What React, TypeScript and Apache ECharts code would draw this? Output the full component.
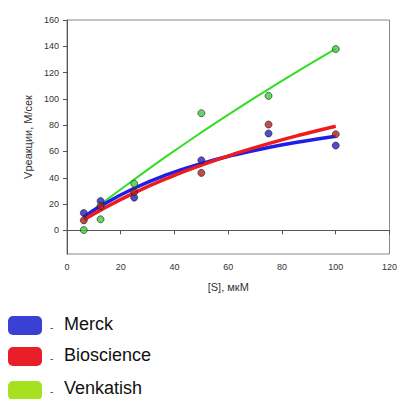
import React, { useEffect, useRef } from "react";
import * as echarts from "echarts";

// Substrate concentrations (мкМ)
const S = [6.25, 12.5, 25, 50, 75, 100];
// Measured rates
const merck = [13.2, 22.3, 24.9, 53.3, 73.7, 64.5];
const bioscience = [7.6, 18.5, 29, 43.7, 80.5, 73.1];
const venkatish = [0.2, 8.4, 35.5, 89.1, 102.3, 137.9];

// Fitted curves
const fitX = [6.25, 12.5, 25, 37.5, 50, 62.5, 75, 87.5, 100];
const merckFit = [10, 18.5, 32, 42.5, 50.8, 57.4, 63, 67.6, 71.6];
const bioscienceFit = [8, 15.4, 28.5, 39.8, 49.6, 58.3, 66, 72.9, 79.2];
const venkatishFit = [10, 19.8, 38.7, 57, 74.5, 91.3, 107.4, 123, 138];

const yTicks = [0, 20, 40, 60, 80, 100, 120, 140, 160];

const legendNames = ["Merck", "Bioscience", "Venkatish"];
const legendColors = ["#3b40d4", "#e81e28", "#a6e01e"];

const FONT = "Liberation Sans, Arial, sans-serif";

const pairs = (xs: number[], ys: number[]) => xs.map((x, i) => [x, ys[i]]);

export default function App() {
  const ref = useRef<HTMLDivElement>(null);
  useEffect(() => {
    if (!ref.current) return;
    const chart = echarts.init(ref.current, null, { renderer: "svg" });
    const legendY = [316, 347, 381];
    const legendTextY = [324, 355, 388];
    const graphics: any[] = [];
    legendNames.forEach((n, i) => {
      graphics.push({
        type: "rect",
        shape: { x: 8, y: legendY[i], width: 34, height: 19, r: 5 },
        style: { fill: legendColors[i] },
      });
      graphics.push({
        type: "text",
        x: 50,
        y: legendTextY[i] + 3,
        style: { text: "-", fontSize: 10, fill: "#444", fontFamily: FONT, verticalAlign: "middle" },
      });
      graphics.push({
        type: "text",
        x: 64,
        y: legendTextY[i],
        style: { text: n, fontSize: 18, fill: "#111", fontFamily: FONT, verticalAlign: "middle" },
      });
    });

    const lineSeries = (name: string, data: number[][], color: string, width: number) => ({
      type: "line",
      name,
      data,
      smooth: true,
      showSymbol: false,
      lineStyle: { color, width },
      z: 2,
    });
    const scatterSeries = (name: string, data: number[][], color: string) => ({
      type: "scatter",
      name,
      data,
      symbolSize: 7,
      itemStyle: { color, borderColor: "#222", borderWidth: 0.8 },
      z: 3,
    });

    chart.setOption({
      animation: false,
      grid: {
        left: 67,
        right: 8,
        top: 20,
        bottom: 145,
        show: true,
        borderColor: "#888",
        borderWidth: 1,
      },
      xAxis: {
        type: "value",
        min: 0,
        max: 120,
        interval: 20,
        name: "[S], мкМ",
        nameLocation: "middle",
        nameGap: 27,
        nameTextStyle: { fontSize: 11, color: "#333", fontFamily: FONT },
        axisLine: { show: true, lineStyle: { color: "#555", width: 1 } },
        axisTick: { show: true, length: 4, lineStyle: { color: "#555" } },
        axisLabel: { fontSize: 9, color: "#333", margin: 8, fontFamily: FONT },
        splitLine: { show: false },
      },
      yAxis: {
        type: "value",
        min: -18,
        max: 160,
        name: "Vреакции, М/сек",
        nameLocation: "middle",
        nameGap: 32,
        nameTextStyle: { fontSize: 11, color: "#333", fontFamily: FONT },
        axisLine: { show: true, lineStyle: { color: "#555", width: 1 } },
        axisTick: { show: true, length: 4, customValues: yTicks, lineStyle: { color: "#555" } },
        axisLabel: { fontSize: 9, color: "#333", margin: 8, customValues: yTicks, fontFamily: FONT },
        splitLine: { show: false },
      },
      series: [
        lineSeries("VenkatishFit", pairs(fitX, venkatishFit), "#33dd22", 2),
        lineSeries("MerckFit", pairs(fitX, merckFit), "#1e1ee6", 3.5),
        lineSeries("BioscienceFit", pairs(fitX, bioscienceFit), "#ee1c1c", 3.5),
        scatterSeries("Merck", pairs(S, merck), "#2020c0"),
        scatterSeries("Bioscience", pairs(S, bioscience), "#b02020"),
        scatterSeries("Venkatish", pairs(S, venkatish), "#3ccc3c"),
      ],
      graphic: graphics,
    });
    return () => chart.dispose();
  }, []);
  return <div ref={ref} style={{ width: 400, height: 399, position: "absolute", left: 0, top: 0 }} />;
}
